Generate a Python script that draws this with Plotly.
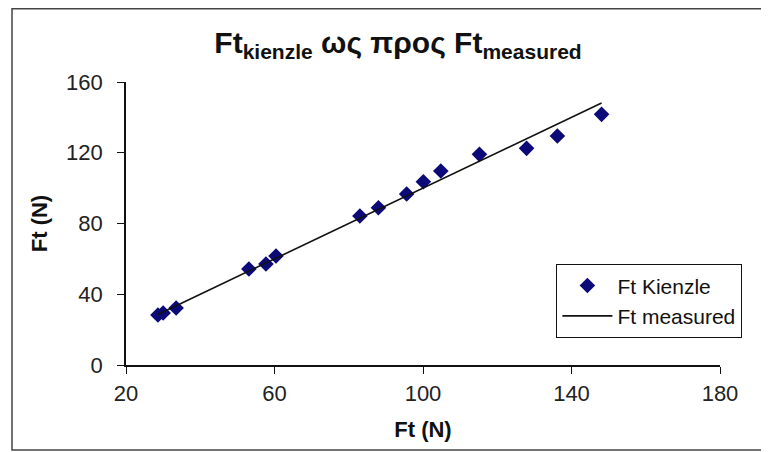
import plotly.graph_objects as go

# Data
ft_measured = [28.6, 30.0, 33.5, 53.1, 57.7, 60.4, 83.0, 88.0, 95.6, 100.1, 104.8, 115.2, 127.9, 136.2, 148.1]
ft_kienzle = [28.3, 29.4, 32.2, 54.3, 57.1, 61.6, 84.2, 88.9, 96.7, 103.6, 109.7, 119.1, 122.5, 129.5, 141.7]

x_ticks = [20, 60, 100, 140, 180]
y_ticks = [0, 40, 80, 120, 160]

# page body adds an 8px offset; figure coordinates are screen - 8
OFF = 8
W, H = 761, 444
L, T = 126 - OFF, 82 - OFF
R = W - (720 - OFF)
B = H - (365 - OFF)
pw, ph = W - L - R, H - T - B

def px(xs):
    return (xs - OFF - L) / pw

def py(ys):
    return (H - B - (ys - OFF)) / ph

fig = go.Figure()
fig.add_trace(go.Scatter(
    x=ft_measured, y=ft_kienzle, mode="markers", name="Ft Kienzle",
    marker=dict(symbol="diamond", size=12, color="#0c0a78"),
    legendgroup="a",
))
fig.add_trace(go.Scatter(
    x=ft_measured, y=ft_measured, mode="lines", name="Ft measured",
    line=dict(color="#111111", width=1.6),
    legendgroup="b",
))

font = "Liberation Sans, Arial, sans-serif"
axis_common = dict(
    showline=True, linecolor="#111111", linewidth=1.6,
    ticks="outside", ticklen=7, tickcolor="#111111", tickwidth=1.4,
    showgrid=False, zeroline=False,
    tickfont=dict(family=font, size=22, color="#222222"),
)

fig.update_layout(
    width=W, height=H,
    margin=dict(l=L, r=R, t=T, b=B),
    paper_bgcolor="white", plot_bgcolor="white",
    title=dict(
        text="<b>Ft<sub>kienzle</sub> ως προς Ft<sub>measured</sub></b>",
        x=(398 - OFF) / W, xanchor="center", y=1 - (42 - OFF) / H, yanchor="middle",
        font=dict(family=font, size=30, color="#111111"),
    ),
    xaxis=dict(
        range=[20, 180], tickvals=x_ticks, ticktext=[str(v) for v in x_ticks],
        title=dict(text="<b>Ft (N)</b>", font=dict(family=font, size=22, color="#111111"), standoff=16),
        ticklabelstandoff=1,
        **axis_common,
    ),
    yaxis=dict(
        range=[0, 160], tickvals=y_ticks, ticktext=[str(v) for v in y_ticks],
        title=dict(text="<b>Ft (N)</b>", font=dict(family=font, size=22, color="#111111"), standoff=12),
        ticklabelstandoff=10,
        **axis_common,
    ),
    legend=dict(
        x=px(556), y=py(264), xanchor="left", yanchor="top",
        bordercolor="#111111", borderwidth=1.4, bgcolor="white",
        font=dict(family=font, size=21, color="#111111"),
        tracegroupgap=6, traceorder="normal", itemwidth=50,
    ),
    shapes=[
        dict(type="rect", xref="paper", yref="paper",
             x0=px(12), x1=px(767), y0=py(450), y1=py(8.8),
             line=dict(color="#444444", width=1.5), fillcolor="rgba(0,0,0,0)", layer="below"),
    ],
)

fig.write_html("out.html")
